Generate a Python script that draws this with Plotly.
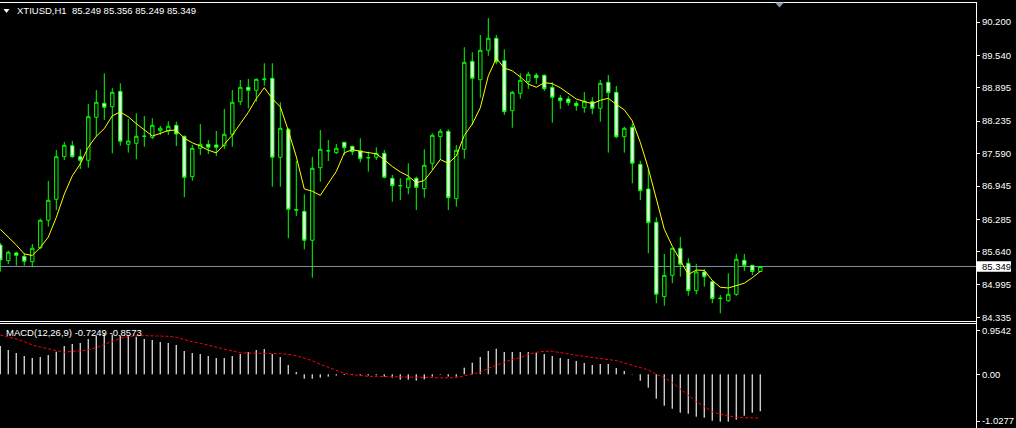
import plotly.graph_objects as go

# ---------------- data ----------------
opens = [85.775, 85.464, 85.617, 85.551, 85.444, 85.722, 86.266, 86.682, 87.527, 87.746,
         87.527, 87.456, 88.309, 88.587, 88.519, 88.825, 87.773, 87.793, 87.930, 87.912,
         88.043, 88.037, 88.150, 87.932, 87.131, 87.694, 87.773, 87.760, 87.746, 87.972,
         88.619, 88.904, 88.845, 89.055, 89.083, 87.516, 88.071, 86.464, 86.444, 85.869,
         87.309, 87.640, 87.607, 87.813, 87.734, 87.646, 87.505, 87.516, 87.595, 87.099,
         86.955, 86.912, 87.099, 86.893, 87.396, 87.924, 88.031, 86.694, 87.674, 89.420,
         89.055, 89.639, 89.877, 89.432, 88.440, 88.785, 89.016, 89.143, 89.143, 88.904,
         88.692, 88.672, 88.587, 88.500, 88.619, 88.488, 89.004, 88.805, 87.924, 88.111,
         87.377, 86.887, 86.226, 84.750, 85.174, 85.710, 85.412, 84.869, 85.240, 85.047,
         84.710, 84.670, 84.797, 85.472, 85.373, 85.249]
highs = [85.815, 85.662, 85.643, 85.611, 85.795, 86.297, 87.045, 87.660, 87.819, 87.839,
         87.674, 88.573, 88.851, 89.182, 88.885, 88.984, 88.275, 88.389, 88.335, 88.289,
         88.137, 88.230, 88.222, 87.945, 87.760, 88.176, 87.859, 88.037, 88.474, 88.851,
         89.049, 89.069, 89.083, 89.381, 89.381, 88.607, 88.097, 87.442, 86.781, 87.521,
         88.057, 87.859, 87.779, 87.819, 87.740, 87.893, 87.627, 87.714, 87.660, 87.164,
         87.099, 87.396, 87.131, 87.674, 87.992, 88.077, 88.071, 87.760, 89.698, 89.599,
         89.942, 90.279, 89.942, 89.658, 88.831, 89.182, 89.214, 89.188, 89.162, 89.004,
         88.752, 88.726, 88.633, 88.811, 88.706, 89.049, 89.148, 88.930, 88.123, 88.190,
         87.448, 87.297, 86.325, 85.597, 85.716, 85.934, 85.512, 85.398, 85.293, 85.081,
         84.783, 85.214, 85.597, 85.597, 85.379, 85.356]
lows = [85.246, 85.398, 85.365, 85.365, 85.333, 85.696, 86.139, 86.470, 87.462, 87.508,
        87.283, 87.309, 87.924, 88.256, 87.595, 87.746, 87.607, 87.476, 87.726, 87.879,
        87.958, 87.958, 87.740, 86.722, 87.051, 87.561, 87.581, 87.541, 87.680, 87.726,
        88.553, 88.488, 88.619, 88.936, 86.932, 86.932, 85.908, 86.351, 85.690, 85.127,
        87.031, 87.442, 87.581, 87.561, 87.561, 87.416, 87.230, 87.462, 87.099, 86.635,
        86.668, 86.781, 86.470, 86.714, 87.264, 87.462, 86.470, 86.535, 87.488, 88.156,
        88.698, 89.531, 89.361, 88.355, 88.103, 88.678, 88.871, 88.976, 88.831, 88.202,
        88.474, 88.539, 88.440, 88.400, 88.369, 88.222, 87.607, 87.893, 87.607, 87.000,
        86.668, 85.611, 84.619, 84.571, 85.016, 85.146, 84.769, 84.797, 84.948, 84.619,
        84.420, 84.650, 84.769, 85.260, 85.180, 85.249]
closes = [85.478, 85.631, 85.571, 85.452, 85.710, 86.266, 86.662, 87.527, 87.754, 87.527,
          87.456, 88.321, 88.607, 88.508, 88.805, 87.833, 87.839, 87.932, 87.935, 88.150,
          88.091, 88.131, 87.978, 87.119, 87.694, 87.773, 87.714, 87.714, 87.972, 88.607,
          88.904, 88.845, 89.063, 89.069, 87.516, 88.091, 86.484, 86.476, 85.869, 87.297,
          87.674, 87.646, 87.694, 87.706, 87.627, 87.488, 87.508, 87.595, 87.119, 86.952,
          86.952, 87.099, 86.920, 87.357, 87.952, 88.031, 86.714, 87.654, 89.400, 89.083,
          89.639, 89.877, 89.412, 88.420, 88.805, 89.043, 89.162, 89.095, 88.877, 88.706,
          88.639, 88.599, 88.539, 88.627, 88.488, 88.984, 88.797, 87.924, 88.091, 87.396,
          86.853, 86.218, 84.797, 85.174, 85.710, 85.393, 84.869, 85.240, 85.146, 84.710,
          84.718, 84.797, 85.492, 85.373, 85.249, 85.349]
ma5 = [86.087, 85.940, 85.775, 85.597, 85.568, 85.726, 85.932, 86.323, 86.784, 87.147,
       87.385, 87.717, 87.933, 88.084, 88.339, 88.415, 88.318, 88.183, 88.069, 87.938,
       87.989, 88.048, 88.057, 87.894, 87.803, 87.739, 87.656, 87.603, 87.773, 87.956,
       88.182, 88.408, 88.678, 88.898, 88.679, 88.517, 88.045, 87.527, 86.887, 86.843,
       86.760, 86.992, 87.236, 87.603, 87.669, 87.632, 87.605, 87.585, 87.467, 87.332,
       87.225, 87.143, 87.008, 87.056, 87.256, 87.472, 87.395, 87.542, 87.950, 88.176,
       88.498, 89.131, 89.482, 89.286, 89.231, 89.111, 88.968, 88.905, 88.996, 88.977,
       88.896, 88.783, 88.672, 88.622, 88.578, 88.647, 88.687, 88.564, 88.457, 88.238,
       87.812, 87.296, 86.671, 86.088, 85.750, 85.458, 85.189, 85.277, 85.272, 85.072,
       84.937, 84.922, 84.973, 85.018, 85.126, 85.252]
macd_main = [0.555, 0.476, 0.418, 0.359, 0.320, 0.339, 0.378, 0.443, 0.555, 0.594,
             0.614, 0.692, 0.760, 0.800, 0.780, 0.760, 0.750, 0.735, 0.692, 0.673,
             0.633, 0.614, 0.575, 0.457, 0.418, 0.398, 0.359, 0.320, 0.320, 0.359,
             0.398, 0.437, 0.476, 0.496, 0.398, 0.339, 0.182, 0.045, -0.086, -0.086,
             -0.065, -0.045, -0.025, -0.015, -0.015, -0.025, -0.025, -0.020, -0.045, -0.065,
             -0.105, -0.105, -0.124, -0.100, -0.045, -0.010, -0.045, -0.045, 0.129, 0.227,
             0.339, 0.457, 0.502, 0.437, 0.437, 0.437, 0.437, 0.424, 0.398, 0.359,
             0.320, 0.300, 0.261, 0.222, 0.182, 0.202, 0.202, 0.124, 0.065, 0.006,
             -0.125, -0.262, -0.478, -0.616, -0.675, -0.753, -0.773, -0.831, -0.851, -0.910,
             -0.929, -0.929, -0.890, -0.812, -0.753, -0.7249]
macd_signal = [0.771, 0.737, 0.692, 0.639, 0.575, 0.535, 0.496, 0.471, 0.431, 0.451,
               0.458, 0.482, 0.522, 0.588, 0.653, 0.706, 0.738, 0.758, 0.758, 0.758,
               0.758, 0.745, 0.725, 0.679, 0.639, 0.608, 0.568, 0.529, 0.490, 0.457,
               0.424, 0.411, 0.411, 0.411, 0.411, 0.405, 0.392, 0.366, 0.313, 0.268,
               0.196, 0.137, 0.078, 0.020, -0.006, -0.027, -0.040, -0.040, -0.045, -0.045,
               -0.050, -0.055, -0.061, -0.065, -0.070, -0.070, -0.070, -0.065, -0.030, 0.000,
               0.040, 0.118, 0.180, 0.235, 0.294, 0.326, 0.392, 0.431, 0.451, 0.451,
               0.431, 0.398, 0.373, 0.353, 0.333, 0.307, 0.294, 0.268, 0.222, 0.176,
               0.130, 0.085, 0.000, -0.066, -0.165, -0.288, -0.405, -0.536, -0.634, -0.733,
               -0.784, -0.817, -0.845, -0.852, -0.856, -0.8573]
price_ticks = [90.200, 89.540, 88.895, 88.235, 87.590, 86.945, 86.285, 85.640, 84.995, 84.335]
macd_tick_text = ["0.9542", "0.00", "-1.0277"]
macd_tick_vals = [0.863, 0.0, -0.916]
last_price = 85.349
title_text = "XTIUSD,H1\u00a0\u00a085.249 85.356 85.249 85.349"
macd_text = "MACD(12,26,9) -0.7249 -0.8573"

bars = list(range(len(closes)))

GREEN = "#00ff00"
FONT = "Liberation Sans"
FS = 9.5

fig = go.Figure()
fig.add_trace(go.Candlestick(
    x=bars, open=opens, high=highs, low=lows, close=closes,
    increasing=dict(line=dict(color=GREEN, width=1), fillcolor="#000000"),
    decreasing=dict(line=dict(color=GREEN, width=1), fillcolor="#ffffff"),
    whiskerwidth=0, xaxis="x", yaxis="y", showlegend=False, hoverinfo="skip"))
fig.add_trace(go.Scatter(x=bars, y=ma5, mode="lines",
                         line=dict(color="#ffff00", width=1),
                         xaxis="x", yaxis="y", showlegend=False, hoverinfo="skip"))
fig.add_trace(go.Bar(x=bars, y=macd_main, width=0.18,
                     marker=dict(color="#c8c8c8", line=dict(width=0)),
                     xaxis="x2", yaxis="y2", showlegend=False, hoverinfo="skip"))
fig.add_trace(go.Scatter(x=bars, y=macd_signal, mode="lines",
                         line=dict(color="#ff0000", width=1, dash="3px,2px"),
                         xaxis="x2", yaxis="y2", showlegend=False, hoverinfo="skip"))

H = 428.0
PH = 426.0  # plot area height (t=2, b=0)
PW = 976.0  # plot area width (l=0, r=40)

def py(pix):
    return (H - pix) / PH

def px(pix):
    return pix / PW

fig.update_layout(
    width=1016, height=428,
    margin=dict(l=0, r=40, t=2, b=0, autoexpand=False),
    paper_bgcolor="#000000", plot_bgcolor="#000000",
    showlegend=False, hovermode=False, boxgap=0.4,
    font=dict(family=FONT, size=FS, color="#ffffff"),
    xaxis=dict(domain=[0, 1], range=[-0.0375, 121.96], visible=False,
               rangeslider=dict(visible=False), anchor="y"),
    xaxis2=dict(domain=[0, 1], matches="x", visible=False, anchor="y2"),
    yaxis=dict(domain=[py(320.5), 1], range=[84.277, 90.597], side="right",
               tickvals=price_ticks, tickformat=".3f", ticks="outside", ticklen=3,
               tickcolor="#ffffff", tickfont=dict(family=FONT, size=FS, color="#ffffff"),
               showgrid=False, zeroline=False, showline=False, anchor="x"),
    yaxis2=dict(domain=[0, py(324)], range=[-1.053, 0.986], side="right",
                tickvals=macd_tick_vals, ticktext=macd_tick_text, ticks="outside", ticklen=3,
                tickcolor="#ffffff", tickfont=dict(family=FONT, size=FS, color="#ffffff"),
                showgrid=False, zeroline=False, showline=False, anchor="x2"),
)

WHITE_LINE = dict(color="#ffffff", width=1)
shapes = [
    dict(type="line", xref="paper", yref="paper", x0=0, x1=px(977), y0=py(2.5), y1=py(2.5),
         line=WHITE_LINE),
    dict(type="line", xref="paper", yref="paper", x0=px(976.5), x1=px(976.5), y0=0, y1=py(2),
         line=WHITE_LINE),
    dict(type="line", xref="paper", yref="paper", x0=0, x1=px(977), y0=py(321.5), y1=py(321.5),
         line=WHITE_LINE),
    dict(type="line", xref="paper", yref="paper", x0=0, x1=px(977), y0=py(323.5), y1=py(323.5),
         line=WHITE_LINE),
    dict(type="line", xref="paper", yref="y", x0=0, x1=px(976), y0=last_price, y1=last_price,
         line=dict(color="#8090a0", width=1), layer="below"),
    dict(type="rect", xref="paper", yref="y", x0=px(977), x1=px(1011),
         y0=last_price - 0.105, y1=last_price + 0.105,
         fillcolor="#ffffff", line=dict(width=0)),
    dict(type="path", xref="paper", yref="paper",
         path="M %f,%f L %f,%f L %f,%f Z" % (px(775), py(2.5), px(784), py(2.5),
                                             px(779.5), py(7.5)),
         fillcolor="#8899aa", line=dict(width=0)),
    dict(type="path", xref="paper", yref="paper",
         path="M %f,%f L %f,%f L %f,%f Z" % (px(3.5), py(9), px(9.5), py(9),
                                             px(6.5), py(13)),
         fillcolor="#ffffff", line=dict(width=0)),
]
fig.update_layout(shapes=shapes)

fig.add_annotation(text=title_text, xref="paper", yref="paper", x=px(15), y=py(11),
                   xanchor="left", yanchor="middle", showarrow=False,
                   font=dict(family=FONT, size=FS, color="#ffffff"))
fig.add_annotation(text=macd_text, xref="paper", yref="paper", x=px(4), y=py(332),
                   xanchor="left", yanchor="middle", showarrow=False,
                   font=dict(family=FONT, size=FS, color="#ffffff"))
fig.add_annotation(text="%.3f" % last_price, xref="paper", yref="y", x=1, y=last_price,
                   xanchor="left", yanchor="middle", xshift=4, showarrow=False,
                   font=dict(family=FONT, size=FS, color="#000000"))

fig.write_html("out.html", config={"displayModeBar": False, "staticPlot": True},
               post_script="document.body.style.margin='0';document.body.style.padding='0';"
                           "document.body.style.overflow='hidden';")
